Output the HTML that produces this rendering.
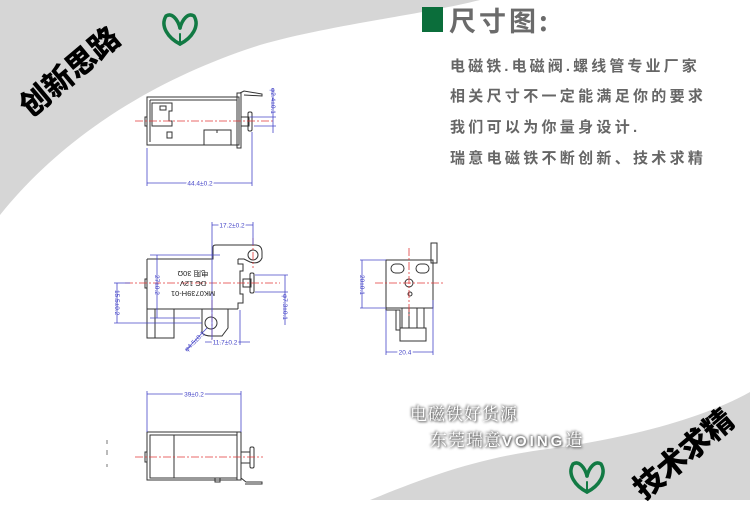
<!DOCTYPE html>
<html><head><meta charset="utf-8"><style>
html,body{margin:0;padding:0}
body{width:750px;height:500px;overflow:hidden;background:#fff;position:relative;font-family:"Liberation Sans","Noto Sans CJK SC",sans-serif}
svg{position:absolute;left:0;top:0}
.t{position:absolute;left:450px;font-size:15px;font-weight:bold;color:#666;letter-spacing:3.3px;white-space:nowrap;line-height:18px}
.rot{position:absolute;font-weight:900;color:#000;white-space:nowrap;font-family:"Noto Sans CJK SC",sans-serif}
.w{position:absolute;color:#fff;font-size:17px;white-space:nowrap;text-shadow:1px 1px 2px #555,0 0 3px #777,-1px -1px 2px #888;font-family:"Noto Serif CJK SC","Noto Sans CJK SC",serif;letter-spacing:1px}
</style></head><body>
<svg width="750" height="500" viewBox="0 0 750 500">
<path d="M0,0 L480,0 C420,15 330,25 260,45 C150,80 60,140 0,215 Z" fill="#d6d6d6"/>
<path d="M750,392 C700,420 620,440 540,450 C470,460 420,480 370,500 L750,500 Z" fill="#d6d6d6"/>
<!-- logos -->
<g fill="none" stroke="#127a44" stroke-width="3.5" stroke-linecap="round">
<path d="M180,44 C168,38 160,26 166,16 C172,12 178,20 180,28"/>
<path d="M180,44 C192,38 200,26 194,16 C188,12 182,20 180,28"/>
<path d="M180,44 L180,34" stroke-width="2"/>
<path d="M587,492 C575,486 567,474 573,464 C579,460 585,468 587,476"/>
<path d="M587,492 C599,486 607,474 601,464 C595,460 589,468 587,476"/>
<path d="M587,492 L587,482" stroke-width="2"/>
</g>
<g fill="none" stroke="#333" stroke-width="1">
<rect x="147" y="97" width="92" height="48"/>
<line x1="150" y1="100" x2="237" y2="100"/>
<line x1="150" y1="100" x2="150" y2="142"/>
<rect x="237" y="93" width="4" height="55"/>
<polyline points="240,93 244,91 262,94 262,96 244,95"/>
<path d="M152,103 h20 v8 h-3 v10 h3 v5 h-20 z"/>
<rect x="160" y="106" width="6" height="4"/>
<rect x="167" y="132" width="5" height="6"/>
<rect x="204" y="130" width="27" height="15"/>
<line x1="217" y1="130" x2="217" y2="133"/>
<rect x="145" y="117" width="2" height="9"/>
<rect x="241" y="117" width="8" height="9"/>
<rect x="248" y="112" width="4" height="19" rx="1.5"/>
<path d="M147,259 H213 V247 Q213,245 216,245 H255 Q262,245 262,252 V258 Q259,265 250,262 L244,259 H238"/>
<path d="M147,259 V309 H238"/>
<circle cx="253" cy="255" r="5"/>
<path d="M238,259 V264 H243 V271 H240 V294 H243 V303 H238 V309"/>
<path d="M147,309 V338 H174 V309"/>
<line x1="155" y1="309" x2="155" y2="338"/>
<path d="M202,309 V333 Q205,336 211,336 H222 L228,328 V309"/>
<circle cx="211" cy="323" r="6"/>
<rect x="145" y="279" width="2" height="9"/>
<rect x="243" y="279" width="8" height="8"/>
<rect x="250" y="273" width="4" height="20" rx="1.5"/>
<rect x="386" y="260" width="47" height="48"/>
<rect x="431" y="243" width="6" height="20"/>
<rect x="391" y="264" width="13" height="9" rx="4.5"/>
<rect x="416" y="264" width="13" height="9" rx="4.5"/>
<circle cx="409" cy="283" r="4"/>
<circle cx="410" cy="294" r="2"/>
<path d="M386,308 V310 H400 V330 H396 V310"/>
<rect x="402" y="308" width="22" height="20"/>
<line x1="409" y1="308" x2="409" y2="328"/>
<line x1="417" y1="308" x2="417" y2="328"/>
<rect x="400" y="328" width="26" height="13"/>
<rect x="147" y="432" width="94" height="48"/>
<rect x="150" y="435" width="87" height="43"/>
<line x1="174" y1="435" x2="174" y2="478"/>
<rect x="237" y="432" width="4" height="48"/>
<polyline points="241,478 246,482 262,482 262,484 245,484"/>
<rect x="145" y="452" width="2" height="10"/>
<rect x="241" y="452" width="9" height="11"/>
<rect x="250" y="447" width="4" height="21" rx="1.5"/>
<rect x="215" y="478" width="5" height="4"/>
</g>
<g stroke="#e23a3a" stroke-width="0.8" stroke-dasharray="8,2,2,2" fill="none">
<line x1="135" y1="121" x2="275" y2="121"/>
<line x1="125" y1="283" x2="280" y2="283"/>
<line x1="212" y1="300" x2="212" y2="345"/>
<line x1="253" y1="238" x2="253" y2="268"/>
<line x1="375" y1="283" x2="445" y2="283"/>
<line x1="409" y1="248" x2="409" y2="318"/>
<line x1="135" y1="457" x2="263" y2="457"/>
</g>
<g stroke="#4646c8" stroke-width="0.8" fill="none">
<line x1="147" y1="148" x2="147" y2="186"/><line x1="252" y1="132" x2="252" y2="186"/>
<line x1="147" y1="183" x2="252" y2="183"/>
<line x1="250" y1="117" x2="276" y2="117"/><line x1="254" y1="126" x2="276" y2="126"/>
<line x1="273" y1="88" x2="273" y2="133"/>
<line x1="212" y1="222" x2="212" y2="340"/><line x1="253" y1="222" x2="253" y2="245"/>
<line x1="212" y1="225" x2="253" y2="225"/>
<line x1="240" y1="310" x2="240" y2="345"/>
<line x1="205" y1="342" x2="250" y2="342"/>
<line x1="150" y1="255" x2="220" y2="255"/><line x1="150" y1="318" x2="200" y2="318"/>
<line x1="157" y1="255" x2="157" y2="318"/>
<line x1="114" y1="283" x2="130" y2="283"/><line x1="114" y1="323" x2="202" y2="323"/>
<line x1="117" y1="283" x2="117" y2="323"/>
<line x1="255" y1="275" x2="288" y2="275"/><line x1="255" y1="292" x2="288" y2="292"/>
<line x1="285" y1="275" x2="285" y2="325"/>
<line x1="186" y1="350" x2="207" y2="328"/>
<line x1="360" y1="260" x2="386" y2="260"/><line x1="360" y1="308" x2="386" y2="308"/>
<line x1="362" y1="260" x2="362" y2="308"/>
<line x1="386" y1="310" x2="386" y2="355"/><line x1="433" y1="300" x2="433" y2="355"/>
<line x1="386" y1="352" x2="433" y2="352"/>
<line x1="147" y1="391" x2="147" y2="432"/><line x1="241" y1="391" x2="241" y2="432"/>
<line x1="147" y1="394" x2="241" y2="394"/>
</g>
<g fill="#4646c8" font-family="Liberation Sans,sans-serif" font-size="6.5">
<text x="200" y="185.5" text-anchor="middle" stroke="#fff" stroke-width="3" style="paint-order:stroke">44.4±0.2</text>
<text transform="translate(271,88) rotate(90)" >φ2.4±0.1</text>
<text x="232" y="227.5" text-anchor="middle" stroke="#fff" stroke-width="3" style="paint-order:stroke">17.2±0.2</text>
<text x="225" y="344.5" text-anchor="middle" stroke="#fff" stroke-width="3" style="paint-order:stroke">11.7±0.2</text>
<text transform="translate(155,275) rotate(90)">27±0.2</text>
<text transform="translate(115,290) rotate(90)">15.5±0.2</text>
<text transform="translate(283,294) rotate(90)">φ7.3±0.1</text>
<text transform="translate(187,352) rotate(-45)">φ4.5±0.1</text>
<text transform="translate(360,275) rotate(90)">20±0.1</text>
<text x="405" y="354.5" text-anchor="middle" stroke="#fff" stroke-width="3" style="paint-order:stroke">20.4</text>
<text x="194" y="396.5" text-anchor="middle" stroke="#fff" stroke-width="3" style="paint-order:stroke">39±0.2</text>
</g>
<g transform="rotate(180 193 283)" font-family="Liberation Sans,'Noto Sans CJK SC',sans-serif" font-size="7.5" fill="#222" text-anchor="middle">
<text x="193" y="275">MK0739H-01</text>
<text x="193" y="285">DC 12V</text>
<text x="193" y="295">电阻 30Ω</text>
</g>
<g stroke="#777" stroke-width="1"><line x1="107" y1="440" x2="107" y2="444"/><line x1="107" y1="450" x2="107" y2="455"/><line x1="107" y1="464" x2="107" y2="467"/></g>
<rect x="422" y="7" width="21" height="25" fill="#0b6e3b"/>
</svg>
<div style="position:absolute;left:449px;top:3px;font-size:27px;font-weight:bold;color:#6b6b6b;letter-spacing:3px;font-family:'Noto Sans CJK SC',sans-serif;line-height:34px">尺寸图:</div>
<div class="t" style="top:58px;letter-spacing:3.1px">电磁铁.电磁阀.螺线管专业厂家</div>
<div class="t" style="top:88px">相关尺寸不一定能满足你的要求</div>
<div class="t" style="top:119px">我们可以为你量身设计.</div>
<div class="t" style="top:150px">瑞意电磁铁不断创新、技术求精</div>
<div class="rot" style="left:8px;top:48px;font-size:30px;transform:rotate(-40deg)">创新思路</div>
<div class="rot" style="left:622px;top:430px;font-size:30px;transform:rotate(-40deg)">技术求精</div>
<div class="w" style="left:410px;top:400px">电磁铁好货源</div>
<div class="w" style="left:430px;top:426px">东莞瑞意<span style="font-family:'Liberation Sans',sans-serif;font-weight:bold;letter-spacing:3px;font-size:15px">VOING</span>造</div>
</body></html>
